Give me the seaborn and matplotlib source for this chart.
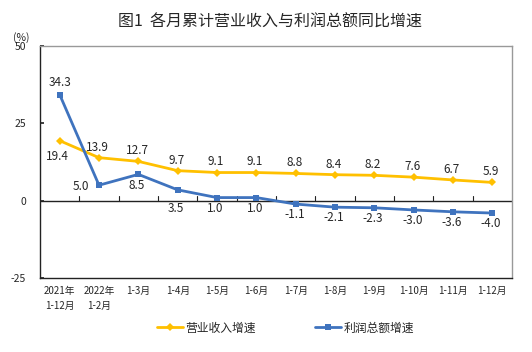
import numpy as np
import pandas as pd
import matplotlib
matplotlib.use("Agg")
import matplotlib.pyplot as plt
import seaborn as sns

sns.set_theme(style="white")
plt.rcParams['font.family'] = ['Noto Sans CJK SC', 'DejaVu Sans']
plt.rcParams['axes.unicode_minus'] = False

# data
months = ["2021年\n1-12月", "2022年\n1-2月", "1-3月", "1-4月", "1-5月", "1-6月",
          "1-7月", "1-8月", "1-9月", "1-10月", "1-11月", "1-12月"]
revenue = [19.4, 13.9, 12.7, 9.7, 9.1, 9.1, 8.8, 8.4, 8.2, 7.6, 6.7, 5.9]
profit = [34.3, 5.0, 8.5, 3.5, 1.0, 1.0, -1.1, -2.1, -2.3, -3.0, -3.6, -4.0]

df = pd.DataFrame({"idx": np.arange(len(months)), "营业收入增速": revenue, "利润总额增速": profit})

yellow = "#FFC000"
blue = "#3F73BE"

fig = plt.figure(figsize=(5.32, 3.52), dpi=100)
ax = fig.add_axes([0.0752, 0.2102, 0.8872, 0.6591])

sns.lineplot(data=df, x="idx", y="营业收入增速", ax=ax, color=yellow, marker="D",
             markersize=4, markeredgewidth=0, linewidth=2, label="营业收入增速")
sns.lineplot(data=df, x="idx", y="利润总额增速", ax=ax, color=blue, marker="s",
             markersize=4.5, markeredgewidth=0, linewidth=2, label="利润总额增速")

ax.set_xlim(-0.5, len(months) - 0.5)
ax.set_ylim(-25, 50)
ax.set_yticks([-25, 0, 25, 50])
ax.set_yticklabels(["-25", "0", "25", "50"], fontsize=7.5)
ax.tick_params(axis="y", direction="in", length=3, pad=10, left=True)
ax.set_xticks(range(len(months)))
ax.set_xticklabels(months, fontsize=7, linespacing=1.6)
ax.tick_params(axis="x", length=0, pad=6)
ax.set_xlabel("")
ax.set_ylabel("")

# zero line with ticks at category boundaries
ax.axhline(0, color="#222222", linewidth=1, zorder=1)
for b in np.arange(0.5, len(months) - 1, 1):
    ax.plot([b, b], [0, 1.5], color="#222222", linewidth=0.8, zorder=1)

for s in ["left", "bottom"]:
    ax.spines[s].set_color("#222222")
    ax.spines[s].set_linewidth(1)
for s in ["top", "right"]:
    ax.spines[s].set_color("#999999")
    ax.spines[s].set_linewidth(1)

# revenue labels
for i, v in enumerate(revenue):
    if i == 0:
        ax.annotate(f"{v:.1f}", (i, v), xytext=(-2, -7), textcoords="offset points",
                    ha="center", va="top", fontsize=8.5)
    else:
        ax.annotate(f"{v:.1f}", (i, v), xytext=(-1, 3), textcoords="offset points",
                    ha="center", va="bottom", fontsize=8.5)

# profit labels
for i, v in enumerate(profit):
    if i == 0:
        ax.annotate(f"{v:.1f}", (i, v), xytext=(0, 4), textcoords="offset points",
                    ha="center", va="bottom", fontsize=8.5)
    elif i == 1:
        ax.annotate(f"{v:.1f}", (i, v), xytext=(-7, -1), textcoords="offset points",
                    ha="right", va="center", fontsize=8.5)
    elif i == 3:
        ax.annotate(f"{v:.1f}", (i, v), xytext=(-1, -9), textcoords="offset points",
                    ha="center", va="top", fontsize=8.5)
    else:
        ax.annotate(f"{v:.1f}", (i, v), xytext=(-1, -3), textcoords="offset points",
                    ha="center", va="top", fontsize=8.5)

fig.text(0.508, 0.937, "图1  各月累计营业收入与利润总额同比增速", ha="center", va="center",
         fontsize=11.5)
fig.text(0.040, 0.893, "(%)", ha="center", va="center", fontsize=7.5)

ax.legend(loc="center", bbox_to_anchor=(0.52, -0.215), ncol=2, frameon=False,
          fontsize=8.5, handlelength=2.2, handletextpad=0.2, columnspacing=5)

fig.savefig("out.png", dpi=100)
